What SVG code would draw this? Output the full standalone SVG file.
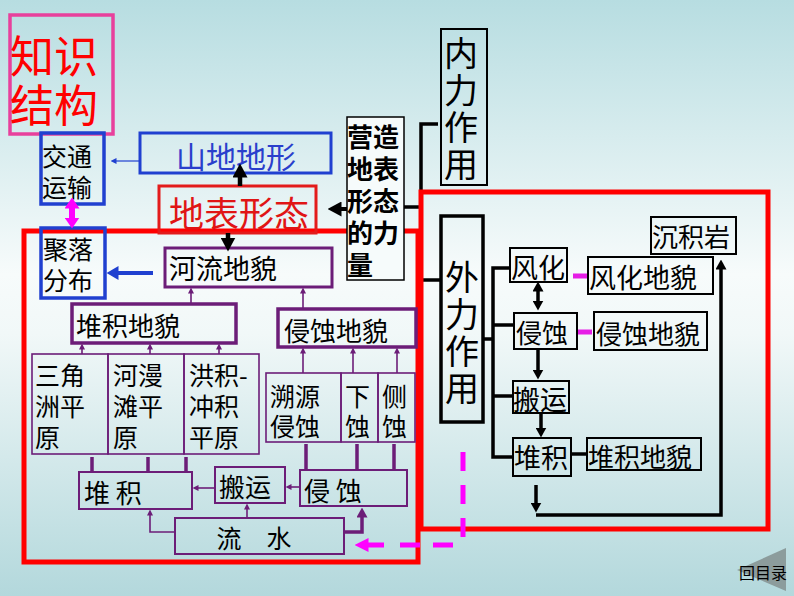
<svg xmlns="http://www.w3.org/2000/svg" width="794" height="596" viewBox="0 0 794 596">
<defs>
<linearGradient id="bg" x1="0" y1="0" x2="0" y2="1">
<stop offset="0" stop-color="#b7dde1"/>
<stop offset="0.46" stop-color="#f7fbfb"/>
<stop offset="0.56" stop-color="#f1f8f8"/>
<stop offset="1" stop-color="#b3d8dc"/>
</linearGradient>
<marker id="ab" markerUnits="userSpaceOnUse" markerWidth="14" markerHeight="15" refX="0.5" refY="7.5" orient="auto-start-reverse" viewBox="0 0 14 15"><path d="M0,0 L14,7.5 L0,15 z" fill="#000"/></marker>
<marker id="ab2" markerUnits="userSpaceOnUse" markerWidth="10" markerHeight="11" refX="0.5" refY="5.5" orient="auto-start-reverse" viewBox="0 0 10 11"><path d="M0,0 L10,5.5 L0,11 z" fill="#000"/></marker>
<marker id="ap" markerUnits="userSpaceOnUse" markerWidth="6" markerHeight="6" refX="0.5" refY="3" orient="auto" viewBox="0 0 6 6"><path d="M0,0 L6,3 L0,6 z" fill="#6c1d78"/></marker>
<marker id="apb" markerUnits="userSpaceOnUse" markerWidth="10" markerHeight="11" refX="0.5" refY="5.5" orient="auto" viewBox="0 0 10 11"><path d="M0,0 L10,5.5 L0,11 z" fill="#6c1d78"/></marker>
<marker id="abs" markerUnits="userSpaceOnUse" markerWidth="6" markerHeight="6" refX="0.5" refY="3" orient="auto" viewBox="0 0 6 6"><path d="M0,0 L6,3 L0,6 z" fill="#2040d0"/></marker>
<marker id="abl" markerUnits="userSpaceOnUse" markerWidth="12" markerHeight="14" refX="0.5" refY="7" orient="auto" viewBox="0 0 12 14"><path d="M0,0 L12,7 L0,14 z" fill="#2040d0"/></marker>
<marker id="am" markerUnits="userSpaceOnUse" markerWidth="11" markerHeight="15" refX="0.5" refY="7.5" orient="auto-start-reverse" viewBox="0 0 11 15"><path d="M0,0 L11,7.5 L0,15 z" fill="#ff00ff"/></marker>
<marker id="am2" markerUnits="userSpaceOnUse" markerWidth="14" markerHeight="14" refX="0.5" refY="7" orient="auto" viewBox="0 0 14 14"><path d="M0,0 L14,7 L0,14 z" fill="#ff00ff"/></marker>
</defs>
<style>
text{font-family:"Noto Sans CJK SC","Noto Sans CJK TC",sans-serif;dominant-baseline:central;fill:#000}
.c{text-anchor:middle}
.v{writing-mode:vertical-rl;font-size:34px;letter-spacing:3px}
rect{fill:none}
.blue{stroke:#2040d0;stroke-width:3.5}
.pur{stroke:#6c1d78;stroke-width:3}
.purt{stroke:#6c1d78;stroke-width:1.6}
.blk{stroke:#000;stroke-width:2}
.frame{stroke:#ff0000;stroke-width:5}
.f25{font-size:25px}
.f26{font-size:26px}
.f27{font-size:27px}
.ln{fill:none;stroke:#000;stroke-width:3.5}
.lp{fill:none;stroke:#6c1d78;stroke-width:1.6}
.lpt{fill:none;stroke:#6c1d78;stroke-width:3.5}
.mg{fill:none;stroke:#ff00ff;stroke-width:5}
</style>
<rect x="0" y="0" width="794" height="596" fill="url(#bg)" style="fill:url(#bg)"/>

<g id="bracket">
<path class="ln" d="M438,124 H421 V280 H441"/>
<path class="ln" d="M404,207 H421"/>
</g>

<g id="frames">
<rect class="frame" x="24" y="231" width="394" height="331"/>
<rect class="frame" x="421" y="192" width="347" height="337"/>
</g>

<g id="n-title">
<rect x="10" y="15" width="103" height="119" style="stroke:#e8409c;stroke-width:3.5"/>
<text style="font-size:44px;fill:#ff0000"><tspan x="10" y="54">知识</tspan><tspan x="10" y="103">结构</tspan></text>
</g>

<g id="n-jiaotong">
<rect class="blue" x="41" y="133" width="63" height="71"/>
<text class="f25"><tspan x="42" y="155">交通</tspan><tspan x="42" y="186">运输</tspan></text>
</g>

<g id="n-shandi">
<rect class="blue" x="140" y="133" width="191" height="40" style="stroke-width:3"/>
<text class="c" x="236" y="155" style="font-size:30px;fill:#2a3fcc">山地地形</text>
</g>

<g id="n-dibiao">
<rect x="159" y="186" width="157" height="47" style="stroke:#e31b1b;stroke-width:3"/>
<text class="c" x="239" y="211" style="font-size:35px;fill:#e01515">地表形态</text>
</g>

<g id="n-yingzao">
<rect x="347" y="117" width="57" height="163" style="fill:#f6fbfb;stroke:#000;stroke-width:1.5"/>
<text class="f26" style="font-weight:bold"><tspan x="347" y="135">营造</tspan><tspan x="347" y="167">地表</tspan><tspan x="347" y="199">形态</tspan><tspan x="347" y="231">的力</tspan><tspan x="347" y="263">量</tspan></text>
</g>

<g id="n-neili">
<rect class="blk" x="441" y="29" width="46" height="156"/>
<text class="v" x="461" y="36">内力作用</text>
</g>

<g id="n-julo">
<rect class="blue" x="41" y="228" width="64" height="70"/>
<text class="f25"><tspan x="43" y="248">聚落</tspan><tspan x="43" y="279">分布</tspan></text>
</g>

<g id="n-heliu">
<rect class="pur" x="165" y="248" width="167" height="39"/>
<text class="f27" x="169" y="267">河流地貌</text>
</g>

<g id="n-duiji-dm">
<rect class="pur" x="72" y="304" width="164" height="39" style="stroke-width:3.5"/>
<text class="f26" x="76" y="324">堆积地貌</text>
</g>

<g id="n-qinshi-dm">
<rect class="pur" x="278" y="309" width="138" height="38" style="stroke-width:3.5"/>
<text class="f26" x="284" y="329">侵蚀地貌</text>
</g>

<g id="n-sanjiao">
<rect class="purt" x="32" y="354" width="76" height="100"/>
<text class="f25"><tspan x="35" y="374">三角</tspan><tspan x="35" y="405">洲平</tspan><tspan x="35" y="436">原</tspan></text>
</g>

<g id="n-heman">
<rect class="purt" x="108" y="354" width="76" height="100"/>
<text class="f25"><tspan x="113" y="374">河漫</tspan><tspan x="113" y="405">滩平</tspan><tspan x="113" y="436">原</tspan></text>
</g>

<g id="n-hongji">
<rect class="purt" x="184" y="354" width="75" height="100"/>
<text class="f25"><tspan x="189" y="374">洪积-</tspan><tspan x="189" y="405">冲积</tspan><tspan x="189" y="436">平原</tspan></text>
</g>

<g id="n-suyuan">
<rect class="purt" x="266" y="373" width="75" height="69"/>
<text class="f25"><tspan x="270" y="395">溯源</tspan><tspan x="270" y="425">侵蚀</tspan></text>
</g>

<g id="n-xiashi">
<rect class="purt" x="341" y="373" width="37" height="69"/>
<text class="f25"><tspan x="345" y="395">下</tspan><tspan x="345" y="425">蚀</tspan></text>
</g>

<g id="n-ceshi">
<rect class="purt" x="378" y="373" width="37" height="69"/>
<text class="f25"><tspan x="382" y="395">侧</tspan><tspan x="382" y="425">蚀</tspan></text>
</g>

<g id="n-duiji-b">
<rect class="pur" x="79" y="472" width="113" height="37" style="stroke-width:2"/>
<text class="f26" x="84" y="491">堆 积</text>
</g>

<g id="n-banyun-b">
<rect class="pur" x="215" y="467" width="70" height="36" style="stroke-width:2"/>
<text class="f26" x="219" y="485">搬运</text>
</g>

<g id="n-qinshi-b">
<rect class="pur" x="300" y="470" width="107" height="36" style="stroke-width:2"/>
<text class="f26" x="304" y="489">侵 蚀</text>
</g>

<g id="n-liushui">
<rect class="pur" x="175" y="518" width="169" height="36" style="stroke-width:2"/>
<text class="c f25" x="254" y="537">流　水</text>
</g>

<g id="n-waili">
<rect class="blk" x="441" y="216" width="42" height="206" style="stroke-width:3.5"/>
<text class="v" x="462" y="260">外力作用</text>
</g>

<g id="n-fenghua">
<rect class="blk" x="510" y="248" width="57" height="34"/>
<text class="f27" x="511" y="266">风化</text>
</g>
<g id="n-fenghua-dm">
<rect class="blk" x="588" y="257" width="125" height="37"/>
<text class="f27" x="589" y="276">风化地貌</text>
</g>
<g id="n-chenji">
<rect class="blk" x="651" y="217" width="85" height="37"/>
<text class="f26" x="652" y="235">沉积岩</text>
</g>
<g id="n-qinshi-r">
<rect class="blk" x="514" y="313" width="63" height="36"/>
<text class="f26" x="516" y="331">侵蚀</text>
</g>
<g id="n-qinshi-dm-r">
<rect class="blk" x="594" y="312" width="113" height="38"/>
<text class="f26" x="596" y="332">侵蚀地貌</text>
</g>
<g id="n-banyun-r">
<rect class="blk" x="513" y="381" width="56" height="32"/>
<text class="f27" x="513" y="398">搬运</text>
</g>
<g id="n-duiji-r">
<rect class="blk" x="513" y="438" width="58" height="38"/>
<text class="f27" x="514" y="456">堆积</text>
</g>
<g id="n-duiji-dm-r">
<rect class="blk" x="587" y="438" width="114" height="32"/>
<text class="f26" x="588" y="455">堆积地貌</text>
</g>

<g id="connectors">
<line x1="140" y1="161" x2="116" y2="161" style="stroke:#2040d0;stroke-width:1.2" marker-end="url(#abs)"/>
<line x1="240" y1="186" x2="240" y2="177" style="stroke:#000;stroke-width:4.5" marker-end="url(#ab)"/>
<line x1="228" y1="233" x2="228" y2="238" style="stroke:#000;stroke-width:4.5" marker-end="url(#ab)"/>
<line x1="347" y1="209" x2="341" y2="209" style="stroke:#000;stroke-width:4" marker-end="url(#ab)"/>
<line x1="72" y1="208" x2="72" y2="218" style="stroke:#ff00ff;stroke-width:6" marker-start="url(#am)" marker-end="url(#am)"/>
<line x1="153" y1="273" x2="118" y2="273" style="stroke:#2040d0;stroke-width:4" marker-end="url(#abl)"/>
<line class="lp" x1="191" y1="304" x2="191" y2="293" marker-end="url(#ap)"/>
<line class="lp" x1="303" y1="309" x2="303" y2="293" marker-end="url(#ap)"/>
<line class="lp" x1="82" y1="354" x2="82" y2="349" marker-end="url(#ap)"/>
<line class="lp" x1="150" y1="354" x2="150" y2="349" marker-end="url(#ap)"/>
<line class="lp" x1="219" y1="354" x2="219" y2="349" marker-end="url(#ap)"/>
<line class="lp" x1="303" y1="373" x2="303" y2="353" marker-end="url(#ap)"/>
<line class="lp" x1="353" y1="373" x2="353" y2="353" marker-end="url(#ap)"/>
<line class="lp" x1="397" y1="373" x2="397" y2="353" marker-end="url(#ap)"/>
<path class="lpt" d="M92,457 V472 M148,457 V472 M186,457 V472 M306,444 V470 M357,444 V470 M394,444 V470"/>
<line class="lp" x1="300" y1="487" x2="291" y2="487" marker-end="url(#ap)"/>
<line class="lp" x1="215" y1="488" x2="198" y2="488" marker-end="url(#ap)"/>
<path class="lp" d="M175,532 H150 V515" marker-end="url(#ap)"/>
<line class="lp" x1="247" y1="518" x2="247" y2="509" marker-end="url(#ap)"/>
<path class="lpt" d="M344,532 H362 V517" marker-end="url(#apb)"/>
<path class="mg" d="M463,452 V538" style="stroke-dasharray:19 14"/>
<path class="mg" d="M453,545 H433 M420,545 H400"/>
<line class="mg" x1="384" y1="545" x2="368" y2="545" marker-end="url(#am2)"/>
<path class="ln" d="M483,339 H493"/>
<path class="ln" d="M510,268 H493 V457 H513 M493,325 H514 M493,396 H513"/>
<path class="mg" d="M573,276 H587 M578,332 H592" style="stroke:#e61ee6"/>
<line x1="538" y1="291" x2="538" y2="301" style="stroke:#000;stroke-width:3.5" marker-start="url(#ab2)" marker-end="url(#ab2)"/>
<line x1="538" y1="349" x2="538" y2="370" style="stroke:#000;stroke-width:3.5" marker-end="url(#ab2)"/>
<line x1="541" y1="413" x2="541" y2="428" style="stroke:#000;stroke-width:3.5" marker-end="url(#ab2)"/>
<line x1="536" y1="485" x2="536" y2="503" style="stroke:#000;stroke-width:3.5" marker-end="url(#ab2)"/>
<path class="ln" d="M536,515 H721 V269" marker-end="url(#ab2)"/>
<path class="ln" d="M571,454 H587"/>
</g>

<g id="n-back">
<polygon points="786,548 786,591 737,570" fill="#8c9c9c"/>
<text x="739" y="572" style="font-size:16px">回目录</text>
</g>
</svg>
